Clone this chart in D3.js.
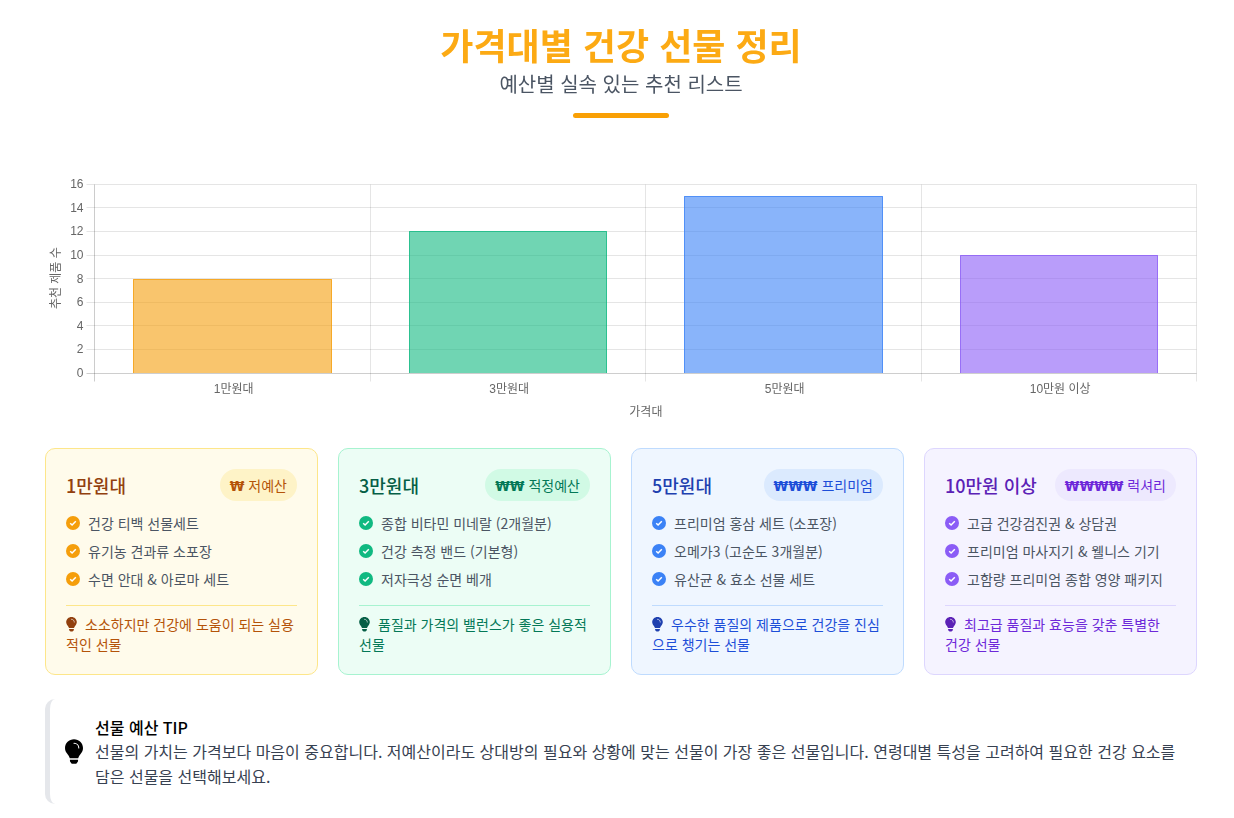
<!DOCTYPE html>
<html lang="ko">
<head>
<meta charset="utf-8">
<script src="https://cdn.jsdelivr.net/npm/d3@7"></script>
<style>
  * { box-sizing: border-box; }
  html, body { margin: 0; background: #fff; }
  body { width: 1234px; height: 818px; overflow: hidden; position: relative; font-family: "Noto Sans CJK KR", "Noto Sans", sans-serif; }
  .title { position: absolute; left: 0; width: 1242px; top: 17px; text-align: center; font-size: 36px; font-weight: 700; line-height: 54px; color: #fcaa14; will-change: transform; }
  .subtitle { position: absolute; left: 0; width: 1242px; top: 69px; text-align: center; font-size: 20px; line-height: 30px; color: #4b5563; }
  .rule { position: absolute; left: 573px; top: 113px; width: 96px; height: 5px; border-radius: 3px; background: #f9a005; }
  #chart { position: absolute; left: 0; top: 0; will-change: transform; }
  #cards { position: absolute; left: 45px; top: 448px; display: flex; gap: 20px; }
  .card { width: 273px; height: 227px; border: 1px solid; border-radius: 10px; padding: 20px; position: relative; }
  .head { display: flex; justify-content: space-between; align-items: center; height: 32px; margin-bottom: 8px; }
  .name { font-size: 18px; font-weight: 500; }
  .badge { height: 32px; border-radius: 16px; padding: 0 10px; font-size: 14px; line-height: 32px; white-space: nowrap; }
  .badge b { font-weight: 700; font-size: 13.3px; font-family: "DejaVu Sans", sans-serif; }
  .item { display: flex; align-items: center; height: 28px; font-size: 14px; color: #4b5563; }
  .item svg { margin-right: 8px; flex: none; }
  .note { margin-top: 12px; border-top: 1px solid; padding-top: 8px; font-size: 14px; line-height: 20px; }
  .note svg { vertical-align: -2px; margin-right: 8px; }
  #tip { position: absolute; left: 45px; top: 699px; width: 1152px; height: 105px; border-left: 5px solid #e5e7eb; border-radius: 10px; padding-left: 45px; padding-top: 16px; padding-right: 15px; }
  #tip svg { position: absolute; left: 15px; top: 40px; }
  #tip .t { font-size: 16px; font-weight: 500; line-height: 24px; color: #000; }
  #tip .b { font-size: 16px; line-height: 25px; color: #374151; }
</style>
</head>
<body>
<div class="title">가격대별 건강 선물 정리</div>
<div class="subtitle">예산별 실속 있는 추천 리스트</div>
<div class="rule"></div>
<svg id="chart" width="1234" height="440"></svg>
<div id="cards"></div>
<div id="tip"></div>
<script>
var categories = ["1만원대", "3만원대", "5만원대", "10만원 이상"];
var counts = [8, 12, 15, 10];
var barColors = ["#f59e0b", "#10b981", "#3b82f6", "#8b5cf6"];
var yTicks = [0, 2, 4, 6, 8, 10, 12, 14, 16];

var badgeSigns = ["₩", "₩₩", "₩₩₩", "₩₩₩₩"];
var badgeNames = ["저예산", "적정예산", "프리미엄", "럭셔리"];
var items = [
  ["건강 티백 선물세트", "유기농 견과류 소포장", "수면 안대 & 아로마 세트"],
  ["종합 비타민 미네랄 (2개월분)", "건강 측정 밴드 (기본형)", "저자극성 순면 베개"],
  ["프리미엄 홍삼 세트 (소포장)", "오메가3 (고순도 3개월분)", "유산균 & 효소 선물 세트"],
  ["고급 건강검진권 & 상담권", "프리미엄 마사지기 & 웰니스 기기", "고함량 프리미엄 종합 영양 패키지"]
];
var notes = [
  "소소하지만 건강에 도움이 되는 실용적인 선물",
  "품질과 가격의 밸런스가 좋은 실용적 선물",
  "우수한 품질의 제품으로 건강을 진심으로 챙기는 선물",
  "최고급 품질과 효능을 갖춘 특별한 건강 선물"
];
var tipTitle = "선물 예산 TIP";
var tipBody = "선물의 가치는 가격보다 마음이 중요합니다. 저예산이라도 상대방의 필요와 상황에 맞는 선물이 가장 좋은 선물입니다. 연령대별 특성을 고려하여 필요한 건강 요소를 담은 선물을 선택해보세요.";
var cardBg = ["#fffbeb", "#ecfdf5", "#eff6ff", "#f5f3ff"];
var cardBorder = ["#fde68a", "#a7f3d0", "#bfdbfe", "#ddd6fe"];
var badgeBg = ["#fef3c7", "#d1fae5", "#dbeafe", "#ede9fe"];
var headColor = ["#92400e", "#065f46", "#1e40af", "#5b21b6"];
var accent = ["#b45309", "#047857", "#1d4ed8", "#6d28d9"];

// chart
var left = 94.9, right = 1196.9, top_ = 183.58, bottom = 372.78;
var svg = d3.select("#chart");
var x = d3.scaleBand().domain(categories).range([left, right]).paddingInner(0.28).paddingOuter(0.14);
var y = d3.scaleLinear().domain([0, 16]).range([bottom, top_]);
var gridColor = "rgba(0,0,0,0.1)";
var borderColor = "rgba(0,0,0,0.2)";
var font = "'Liberation Sans', 'Noto Sans CJK KR', sans-serif";
var px = function(v) { return Math.round(v) + 0.5; };
var yBase = px(y(0));
// bar tops land half a pixel under the grid rows
var barTop = function(d) { return Math.round(y(d) + 0.5); };

// vertical grid sits on category edges, so it goes by band step
var step = x.step();
var edges = d3.range(categories.length + 1).map(function(i) { return Math.floor(left + i * step) + 0.5; });

svg.append("g").selectAll("line").data(edges).enter().append("line")
  .attr("x1", function(d) { return d; })
  .attr("x2", function(d) { return d; })
  .attr("y1", px(y(16)))
  .attr("y2", yBase + 8)
  .attr("stroke", function(d, i) { return i == 0 ? borderColor : gridColor; });

var yAxis = svg.append("g")
  .attr("transform", "translate(" + edges[0] + ",0)")
  .call(d3.axisLeft(y).tickValues(yTicks).tickSize(0).tickPadding(11));
yAxis.select(".domain").remove();
yAxis.selectAll("text").attr("fill", "#666").style("font", "12px " + font);

svg.append("g").selectAll("line").data(yTicks).enter().append("line")
  .attr("x1", edges[0] - 8)
  .attr("x2", edges[edges.length - 1])
  .attr("y1", function(d) { return px(y(d)); })
  .attr("y2", function(d) { return px(y(d)); })
  .attr("stroke", gridColor);

var bars = svg.append("g").selectAll("g").data(counts).enter().append("g");
bars.append("rect")
  .attr("x", function(d, i) { return Math.round(x(categories[i])); })
  .attr("y", function(d) { return barTop(d); })
  .attr("width", function(d, i) { return Math.round(x(categories[i]) + x.bandwidth()) - Math.round(x(categories[i])); })
  .attr("height", function(d) { return Math.round(y(0)) - barTop(d); })
  .attr("fill", function(d, i) { return barColors[i]; })
  .attr("fill-opacity", 0.6);
bars.append("path")
  .attr("d", function(d, i) {
    var x0 = Math.round(x(categories[i])) + 0.5;
    var x1 = Math.round(x(categories[i]) + x.bandwidth()) - 0.5;
    var y0 = barTop(d) + 0.5;
    return "M" + x0 + "," + (yBase - 0.5) + "V" + y0 + "H" + x1 + "V" + (yBase - 0.5);
  })
  .attr("fill", "none")
  .attr("stroke", function(d, i) { return barColors[i]; })
  .attr("stroke-opacity", 0.7);

svg.append("line")
  .attr("x1", edges[0] - 8)
  .attr("x2", edges[edges.length - 1])
  .attr("y1", yBase)
  .attr("y2", yBase)
  .attr("stroke", gridColor);

var xAxis = svg.append("g")
  .attr("transform", "translate(1," + bottom + ")")
  .call(d3.axisBottom(x).tickSize(0).tickPadding(12));
xAxis.select(".domain").remove();
xAxis.selectAll("text").attr("fill", "#666").style("font", "12px " + font);

svg.append("text")
  .attr("x", (left + right) / 2)
  .attr("y", 416)
  .attr("text-anchor", "middle")
  .attr("fill", "#666")
  .style("font", "12px " + font)
  .text("가격대");
svg.append("text")
  .attr("transform", "translate(60," + (bottom + top_) / 2 + ") rotate(-90)")
  .attr("text-anchor", "middle")
  .attr("fill", "#666")
  .style("font", "12px " + font)
  .text("추천 제품 수");

// icons
function checkIcon(c) {
  return '<svg width="14" height="14" viewBox="0 0 14 14"><circle cx="7" cy="7" r="7" fill="' + c + '"/>' +
    '<path d="M4.2 7.2L6.1 9L9.8 5.3" fill="none" stroke="#fff" stroke-width="1.5"/></svg>';
}
function bulbIcon(c, w, h) {
  return '<svg width="' + w + '" height="' + h + '" viewBox="0 0 12 17"><path fill="' + c + '" d="M6 0C2.7 0 0 2.6 0 5.8c0 1.5.6 2.8 1.5 3.8.6.7 1.4 2 1.7 3h5.6c.3-1 1.1-2.3 1.7-3 .9-1 1.5-2.3 1.5-3.8C12 2.6 9.3 0 6 0zM3.3 13.6v.9c0 .3.1.5.3.7l.6.8c.2.2.5.4.8.4h2c.3 0 .6-.2.8-.4l.6-.8c.2-.2.3-.4.3-.7v-.9z"/>' +
    '<path d="M6 2.6c1.8 0 3.2 1.4 3.2 3.2" fill="none" stroke="#fff" stroke-width=".7" stroke-linecap="round"/></svg>';
}

// cards
var card = d3.select("#cards").selectAll(".card").data(categories).enter().append("div")
  .attr("class", "card")
  .style("background", function(d, i) { return cardBg[i]; })
  .style("border-color", function(d, i) { return cardBorder[i]; });

var head = card.append("div").attr("class", "head");
head.append("div").attr("class", "name")
  .style("color", function(d, i) { return headColor[i]; })
  .text(function(d) { return d; });
head.append("div").attr("class", "badge")
  .style("background", function(d, i) { return badgeBg[i]; })
  .style("color", function(d, i) { return accent[i]; })
  .html(function(d, i) { return "<b>" + badgeSigns[i] + "</b> " + badgeNames[i]; });

card.each(function(d, i) {
  var c = d3.select(this);
  items[i].forEach(function(t) {
    c.append("div").attr("class", "item").html(checkIcon(barColors[i]) + "<span></span>")
      .select("span").text(t);
  });
  c.append("div").attr("class", "note")
    .style("border-color", cardBorder[i])
    .style("color", accent[i])
    .html(bulbIcon(headColor[i], 11, 15) + notes[i]);
});

// tip
var tip = d3.select("#tip");
tip.html(bulbIcon("#000", 18, 26));
tip.append("div").attr("class", "t").text(tipTitle);
tip.append("div").attr("class", "b").text(tipBody);
</script>
</body>
</html>
